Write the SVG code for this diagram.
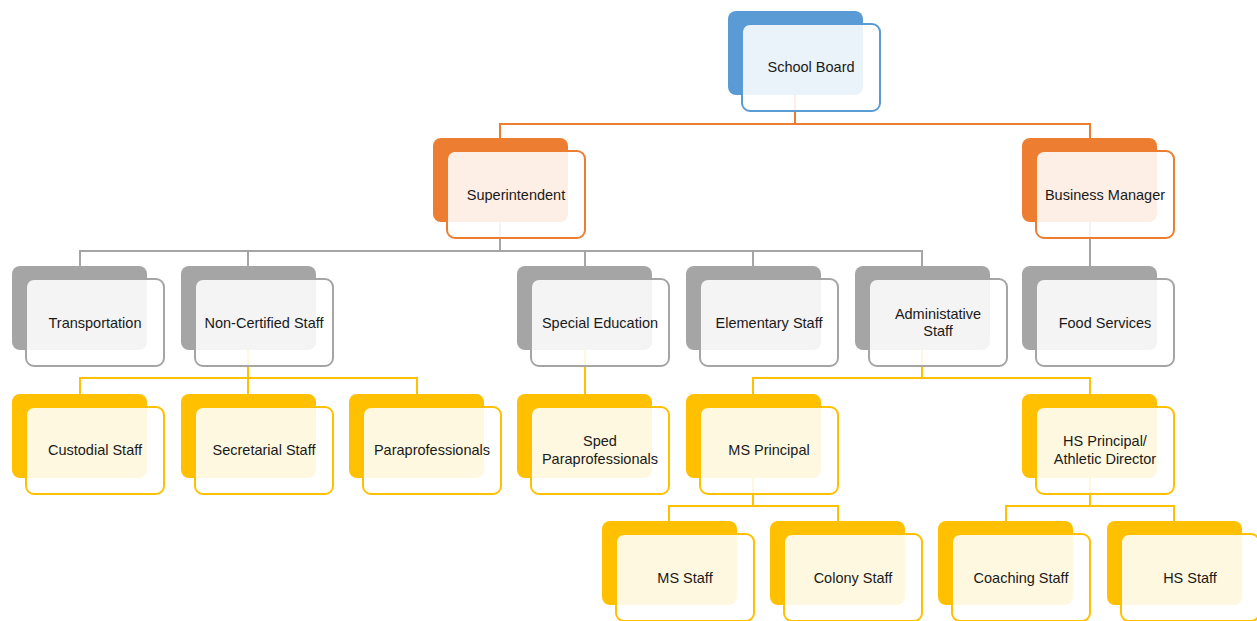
<svg xmlns="http://www.w3.org/2000/svg" width="1257" height="621" viewBox="0 0 1257 621">
<style>
.bk{stroke:none}
.fr{fill:#fff;fill-opacity:0.88;stroke-width:2}
.b .bk{fill:#5B9BD5}.b .fr{stroke:#5B9BD5}
.o .bk{fill:#ED7D31}.o .fr{stroke:#ED7D31}
.g .bk{fill:#A5A5A5}.g .fr{stroke:#A5A5A5}
.y .bk{fill:#FFC000}.y .fr{stroke:#FFC000}
text{font-family:"Liberation Sans",Arial,sans-serif;font-size:14.5px;fill:#1a1a1a;text-anchor:middle}
.c{fill:none;stroke-width:2}
</style>
<defs>
<rect id="bkr" width="135" height="84" rx="8"/>
<rect id="frr" width="138" height="87" rx="8"/>
</defs>
<g id="connectors">
<path class="c" stroke="#ED7D31" d="M795,95V124M500,138V124H1090V138"/>
<path class="c" stroke="#A5A5A5" d="M500,222V251M80,266V251H922V266M248,251V266M585,251V266M753,251V266M1090,222V266"/>
<path class="c" stroke="#FFC000" d="M248,350V378M80,394V378H417V394M248,378V394M585,350V394M922,350V378M753,394V378H1090V394M753,478V506M669,521V506H838V521M1090,478V506M1006,521V506H1174V521"/>
</g>
<g id="school-board" class="b" transform="translate(728,11)"><use href="#bkr" class="bk"/><use href="#frr" class="fr" x="14" y="13"/><text x="83" y="61">School Board</text></g>
<g id="superintendent" class="o" transform="translate(433,138)"><use href="#bkr" class="bk"/><use href="#frr" class="fr" x="14" y="13"/><text x="83" y="62">Superintendent</text></g>
<g id="business-manager" class="o" transform="translate(1022,138)"><use href="#bkr" class="bk"/><use href="#frr" class="fr" x="14" y="13"/><text x="83" y="62">Business Manager</text></g>
<g id="transportation" class="g" transform="translate(12,266)"><use href="#bkr" class="bk"/><use href="#frr" class="fr" x="14" y="13"/><text x="83" y="62">Transportation</text></g>
<g id="non-certified" class="g" transform="translate(181,266)"><use href="#bkr" class="bk"/><use href="#frr" class="fr" x="14" y="13"/><text x="83" y="62">Non-Certified Staff</text></g>
<g id="special-education" class="g" transform="translate(517,266)"><use href="#bkr" class="bk"/><use href="#frr" class="fr" x="14" y="13"/><text x="83" y="62">Special Education</text></g>
<g id="elementary-staff" class="g" transform="translate(686,266)"><use href="#bkr" class="bk"/><use href="#frr" class="fr" x="14" y="13"/><text x="83" y="62">Elementary Staff</text></g>
<g id="administative-staff" class="g" transform="translate(855,266)"><use href="#bkr" class="bk"/><use href="#frr" class="fr" x="14" y="13"/><text x="83" y="53">Administative</text><text x="83" y="70">Staff</text></g>
<g id="food-services" class="g" transform="translate(1022,266)"><use href="#bkr" class="bk"/><use href="#frr" class="fr" x="14" y="13"/><text x="83" y="62">Food Services</text></g>
<g id="custodial-staff" class="y" transform="translate(12,394)"><use href="#bkr" class="bk"/><use href="#frr" class="fr" x="14" y="13"/><text x="83" y="61">Custodial Staff</text></g>
<g id="secretarial-staff" class="y" transform="translate(181,394)"><use href="#bkr" class="bk"/><use href="#frr" class="fr" x="14" y="13"/><text x="83" y="61">Secretarial Staff</text></g>
<g id="paraprofessionals" class="y" transform="translate(349,394)"><use href="#bkr" class="bk"/><use href="#frr" class="fr" x="14" y="13"/><text x="83" y="61">Paraprofessionals</text></g>
<g id="sped-paraprofessionals" class="y" transform="translate(517,394)"><use href="#bkr" class="bk"/><use href="#frr" class="fr" x="14" y="13"/><text x="83" y="52">Sped</text><text x="83" y="70">Paraprofessionals</text></g>
<g id="ms-principal" class="y" transform="translate(686,394)"><use href="#bkr" class="bk"/><use href="#frr" class="fr" x="14" y="13"/><text x="83" y="61">MS Principal</text></g>
<g id="hs-principal" class="y" transform="translate(1022,394)"><use href="#bkr" class="bk"/><use href="#frr" class="fr" x="14" y="13"/><text x="83" y="52">HS Principal/</text><text x="83" y="70">Athletic Director</text></g>
<g id="ms-staff" class="y" transform="translate(602,521)"><use href="#bkr" class="bk"/><use href="#frr" class="fr" x="14" y="13"/><text x="83" y="62">MS Staff</text></g>
<g id="colony-staff" class="y" transform="translate(770,521)"><use href="#bkr" class="bk"/><use href="#frr" class="fr" x="14" y="13"/><text x="83" y="62">Colony Staff</text></g>
<g id="coaching-staff" class="y" transform="translate(938,521)"><use href="#bkr" class="bk"/><use href="#frr" class="fr" x="14" y="13"/><text x="83" y="62">Coaching Staff</text></g>
<g id="hs-staff" class="y" transform="translate(1107,521)"><use href="#bkr" class="bk"/><use href="#frr" class="fr" x="14" y="13"/><text x="83" y="62">HS Staff</text></g>
</svg>
